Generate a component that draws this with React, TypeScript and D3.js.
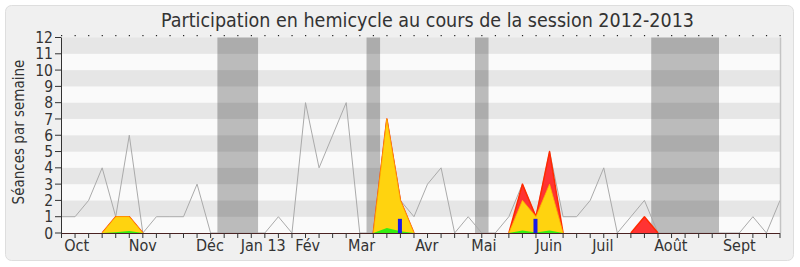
import React from "react";
import * as d3 from "d3";

// Weekly values, session 2012-2013 (week index 0 = start of October)
const presence = [1, 1, 2, 4, 1, 6, 0, 1, 1, 1, 3, 0, 0, 0, 0, 0, 1, 0, 8, 4, 6, 8, 0, 0, 7, 2, 1, 3, 4, 0, 1, 0, 0, 1, 3, 1, 5, 1, 1, 2, 4, 0, 1, 2, 0, 0, 0, 0, 0, 0, 0, 1, 0, 2];
const seancesHemicycle = [0, 0, 0, 0, 1, 1, 0, 0, 0, 0, 0, 0, 0, 0, 0, 0, 0, 0, 0, 0, 0, 0, 0, 0, 7, 2, 0, 0, 0, 0, 0, 0, 0, 0, 3, 1, 5, 0, 0, 0, 0, 0, 0, 1, 0, 0, 0, 0, 0, 0, 0, 0, 0, 0];
const interventions = [0, 0, 0, 0, 1, 1, 0, 0, 0, 0, 0, 0, 0, 0, 0, 0, 0, 0, 0, 0, 0, 0, 0, 0, 7, 2, 0, 0, 0, 0, 0, 0, 0, 0, 2, 1, 3, 0, 0, 0, 0, 0, 0, 0, 0, 0, 0, 0, 0, 0, 0, 0, 0, 0];
const interventionsLongues = [0, 0, 0, 0, 0.05, 0.12, 0, 0, 0, 0, 0, 0, 0, 0, 0, 0, 0, 0, 0, 0, 0, 0, 0, 0, 0.3, 0.1, 0, 0, 0, 0, 0, 0, 0, 0, 0.15, 0.03, 0.15, 0, 0, 0, 0, 0, 0, 0, 0, 0, 0, 0, 0, 0, 0, 0, 0, 0];
const questionsWeeks = [25, 35];
const questionsValues = [0.87, 0.87];

// Parliamentary recess periods, in week units
const vacances: [number, number][] = [[11.5, 14.5], [22.5, 23.5], [30.5, 31.5], [43.5, 48.5]];

const monthLabels = ["Oct", "Nov", "Déc", "Jan 13", "Fév", "Mar", "Avr", "Mai", "Juin", "Juil", "Août", "Sept"];
const monthPositions = [1.12, 6.0, 10.95, 14.88, 18.16, 22.14, 26.95, 31.16, 35.95, 39.93, 44.95, 50.0];

const yTicks = d3.range(0, 13);

const FONT = "'DejaVu Sans Condensed', 'DejaVu Sans', sans-serif";

export default function App() {
  const W = 800, H = 267;
  const left = 61, right = 780, top = 37.5, bottom = 233;
  const x = d3.scaleLinear().domain([0, presence.length - 1]).range([left + 0.5, right]);
  const y = d3.scaleLinear().domain([0, 12]).range([bottom, top]);
  const idx = d3.range(presence.length);

  const line = d3.line<number>().x((i) => x(i)).y((i) => y(presence[i]));
  const area = (vals: number[]) =>
    d3.area<number>().x((i) => x(i)).y0(y(0)).y1((i) => y(vals[i]))(idx) || "";
  // outline only around the non-zero stretches of a series
  const outline = (vals: number[]) =>
    d3.line<number>()
      .defined((i) => vals[i] > 0 || (vals[i - 1] ?? 0) > 0 || (vals[i + 1] ?? 0) > 0)
      .x((i) => x(i)).y((i) => y(vals[i]))(idx) || "";

  return (
    <svg width={W} height={H} style={{ position: "absolute", left: 0, top: 0, fontFamily: FONT }}>
      <rect x={0} y={0} width={W} height={H} fill="#ffffff" />
      <rect x={5.5} y={5.5} width={788} height={255} rx={6} fill="#f0f0f0" stroke="#dedede" />

      <text x={427.5} y={26.5} textAnchor="middle" fontSize={19.5} fill="#333">
        Participation en hemicycle au cours de la session 2012-2013
      </text>

      {/* horizontal stripes */}
      {d3.range(0, 12).map((v) => (
        <rect key={v} x={left} y={y(v + 1)} width={right - left} height={y(v) - y(v + 1)}
          fill={v % 2 === 1 ? "#e6e6e6" : "#fafafa"} />
      ))}

      {/* recess bands */}
      {vacances.map(([a, b], k) => (
        <rect key={k} x={x(a)} y={top} width={x(b) - x(a)} height={bottom - top} fill="#000" fillOpacity={0.25} />
      ))}

      <path d={line(idx) || ""} fill="none" stroke="#aaaaaa" strokeWidth={1} />

      <path d={area(seancesHemicycle)} fill="#ff3333" />
      <path d={outline(seancesHemicycle)} fill="none" stroke="#ff2a00" strokeWidth={1.5} strokeLinejoin="round" />
      <path d={area(interventions)} fill="#ffd30f" />
      <path d={outline(interventions)} fill="none" stroke="#ffb400" strokeWidth={0.8} />
      <path d={area(interventionsLongues)} fill="#33ee11" />

      {questionsWeeks.map((w, k) => (
        <rect key={k} x={x(w) - 2.5} y={y(questionsValues[k])} width={4} height={y(0) - y(questionsValues[k])} fill="#1a1ae6" />
      ))}

      {/* right border */}
      <line x1={right + 0.5} x2={right + 0.5} y1={top} y2={bottom} stroke="#c4c4c4" strokeWidth={1.5} />

      {/* top dotted ticks */}
      {idx.map((i) => (
        <rect key={i} x={x(i) - 0.5} y={35} width={1.2} height={1.2} fill="#222" />
      ))}

      {/* y axis */}
      <line x1={left + 0.5} x2={left + 0.5} y1={top} y2={bottom} stroke="#333" />
      {yTicks.map((t) => (
        <g key={t}>
          <line x1={55} x2={left} y1={y(t)} y2={y(t)} stroke="#333" />
          <text x={53} y={y(t)} dy="0.36em" textAnchor="end" fontSize={15.5} fill="#333">{t}</text>
        </g>
      ))}
      <text transform={`translate(23.5,132) rotate(-90)`} textAnchor="middle" fontSize={15} fill="#333">
        Séances par semaine
      </text>

      {/* x axis */}
      <line x1={left} x2={right} y1={bottom + 0.5} y2={bottom + 0.5} stroke="#4a2222" strokeWidth={1.2} />
      {idx.map((i) => (
        <line key={i} x1={x(i)} x2={x(i)} y1={bottom} y2={bottom + 5} stroke="#333" />
      ))}
      {monthLabels.map((m, k) => (
        <text key={m} x={x(monthPositions[k])} y={251} textAnchor="middle" fontSize={16} fill="#333">{m}</text>
      ))}
    </svg>
  );
}
